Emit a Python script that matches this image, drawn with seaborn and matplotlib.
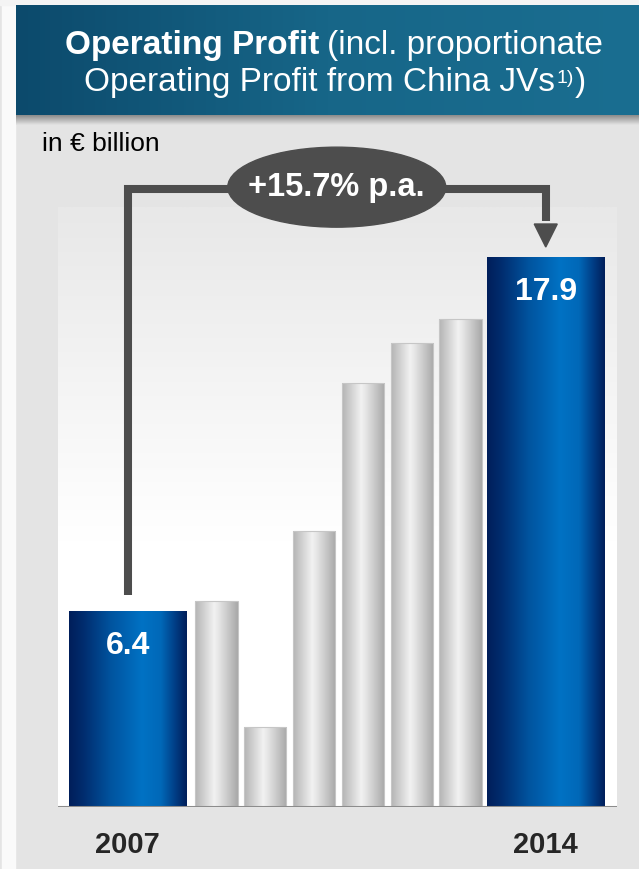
import numpy as np
import matplotlib.pyplot as plt
import seaborn as sns
from matplotlib.colors import LinearSegmentedColormap
from matplotlib.patches import Ellipse, Polygon, Rectangle

# data (in EUR billion)
years = ["2007", "2008", "2009", "2010", "2011", "2012", "2013", "2014"]
profit = [6.4, 6.7, 2.6, 9.0, 13.8, 15.1, 15.9, 17.9]
shown_years = ["2007", "2014"]
cagr_label = "+15.7% p.a."
unit_label = "in € billion"
title_bold = "Operating Profit"
title_rest = "(incl. proportionate"
title_line2 = "Operating Profit from China JVs"
footnote_mark = "1)"

W, H = 639, 869
PX = 30.7  # pixels per billion on the value axis

sns.set_style("white")
plt.rcParams["font.family"] = ["Liberation Sans", "DejaVu Sans"]


def fx(px):
    return px / W


def fy(py):
    return 1 - py / H


blue_cmap = LinearSegmentedColormap.from_list("blue", [
    (0.0, "#001e5a"), (0.12, "#002c6e"), (0.35, "#00539e"),
    (0.62, "#0072c4"), (0.78, "#0068b8"), (0.9, "#003e86"), (1.0, "#001e5a")])
grey_cmap = LinearSegmentedColormap.from_list("grey", [
    (0.0, "#b4b4b4"), (0.2, "#cfcfcf"), (0.45, "#f2f2f2"),
    (0.55, "#e6e6e6"), (0.8, "#c4c4c4"), (1.0, "#a8a8a8")])
banner_cmap = LinearSegmentedColormap.from_list("banner", ["#0c4a6c", "#176688", "#1a6e91"])
panel_cmap = LinearSegmentedColormap.from_list("panel", ["#e8e8e8", "#ffffff"])
shadow_cmap = LinearSegmentedColormap.from_list("shadow", ["#8a8a8a", "#e4e4e4"])

fig = plt.figure(figsize=(W / 100, H / 100), dpi=100, facecolor="#e4e4e4")

# white strip on the left and at the very top
fig.add_artist(Rectangle((fx(2), 0), fx(13), 1, transform=fig.transFigure,
                         color="#fafafa", zorder=0))
fig.add_artist(Rectangle((0, fy(5)), 1, 5 / H, transform=fig.transFigure,
                         color="#f4f4f4", zorder=0))

# title banner with shadow
shadow = fig.add_axes([fx(16), fy(125), fx(W - 16), 10 / H])
shadow.imshow(np.linspace(0, 1, 64)[:, None], cmap=shadow_cmap, aspect="auto",
              extent=(0, 1, 0, 1))
shadow.axis("off")
ban = fig.add_axes([fx(16), fy(115), fx(W - 16), 110 / H])
ban.imshow(np.linspace(0, 1, 256)[None, :], cmap=banner_cmap, aspect="auto",
           extent=(0, 1, 0, 1))
ban.axis("off")

fig.text(fx(319), fy(54), title_bold, ha="right", va="baseline",
         color="white", fontsize=24, fontweight="bold")
fig.text(fx(327), fy(54), title_rest, ha="left", va="baseline",
         color="white", fontsize=24)
fig.text(fx(555), fy(91), title_line2, ha="right", va="baseline",
         color="white", fontsize=24)
fig.text(fx(557), fy(83), footnote_mark, ha="left", va="baseline",
         color="white", fontsize=14)
fig.text(fx(575), fy(91), ")", ha="left", va="baseline",
         color="white", fontsize=24)
fig.text(fx(42), fy(151), unit_label, ha="left", va="baseline",
         color="black", fontsize=19)

# light panel behind the bars
panel = fig.add_axes([fx(58), fy(807), fx(559), (807 - 207) / H])
grad = np.clip(np.linspace(0, 1.8, 256), 0, 1)[:, None]
panel.imshow(grad, cmap=panel_cmap, aspect="auto", extent=(0, 1, 0, 1))
panel.axis("off")

# main chart
ax = fig.add_axes([fx(58), fy(807), fx(559), (807 - 130) / H])
ax.set_facecolor("none")
sns.barplot(x=years, y=profit, ax=ax, color="#999999", saturation=1, errorbar=None)

# bar layout in pixels: wide blue end bars, slim grey bars in between
blue_w, grey_w = 117.5, 42.5
gaps = [8.5, 6.4, 6.4, 6.4, 6.4, 6.4, 5.0]
left = 11.0
centers = []
hgrad = np.linspace(0, 1, 256)[None, :]
for i, (p, yr) in enumerate(zip(ax.patches, years)):
    w = blue_w if yr in shown_years else grey_w
    p.set_x(left)
    p.set_width(w)
    centers.append(left + w / 2)
    cmap = blue_cmap if yr in shown_years else grey_cmap
    im = ax.imshow(hgrad, cmap=cmap, aspect="auto", interpolation="bicubic",
                   extent=(left, left + w, 0, p.get_height()), zorder=2)
    im.set_clip_path(p)
    p.set_facecolor("none")
    p.set_edgecolor("none" if yr in shown_years else "#c6c6c6")
    p.set_linewidth(0.8)
    p.set_zorder(3)
    if i < len(gaps):
        left += w + gaps[i]

for c, yr, v in zip(centers, years, profit):
    if yr in shown_years:
        ax.annotate(f"{v:.1f}", (c, v), xytext=(0, -35), textcoords="offset pixels",
                    ha="center", va="center", color="white", fontsize=23,
                    fontweight="bold", zorder=4)

ax.axhline(0, color="#8c8c8c", lw=2.2, zorder=5)

# growth arrow from the first to the last bar
c0, c1 = centers[0], centers[-1]
top = max(profit)
y_top = top + 2.23
ax.plot([c0, c0, c1, c1], [profit[0] + 0.5, y_top, y_top, top + 1.2],
        color="#4d4d4d", lw=5.8, solid_joinstyle="miter", solid_capstyle="butt",
        clip_on=False, zorder=6)
ax.add_patch(Polygon([(c1 - 11.5, top + 1.09), (c1 + 11.5, top + 1.09), (c1, top + 0.34)],
                     closed=True, color="#4d4d4d", clip_on=False, zorder=6))
xm = (c0 + c1) / 2
ax.add_patch(Ellipse((xm, y_top + 0.06), 218, 80 / PX, color="#4d4d4d",
                     clip_on=False, zorder=7))
ax.text(xm, y_top + 0.06, cagr_label, ha="center", va="center", color="white",
        fontsize=23.5, fontweight="bold", zorder=8)

ax.set_xlim(0, 559)
ax.set_ylim(0, (807 - 130) / PX)
ax.set_xticks([c for c, yr in zip(centers, years) if yr in shown_years])
ax.set_xticklabels(shown_years, fontsize=21, fontweight="bold")
ax.tick_params(axis="x", length=0, pad=17.5)
ax.set_yticks([])
ax.set_xlabel("")
ax.set_ylabel("")
sns.despine(ax=ax, left=True, bottom=True)

fig.savefig("out.png", dpi=100, facecolor=fig.get_facecolor())
